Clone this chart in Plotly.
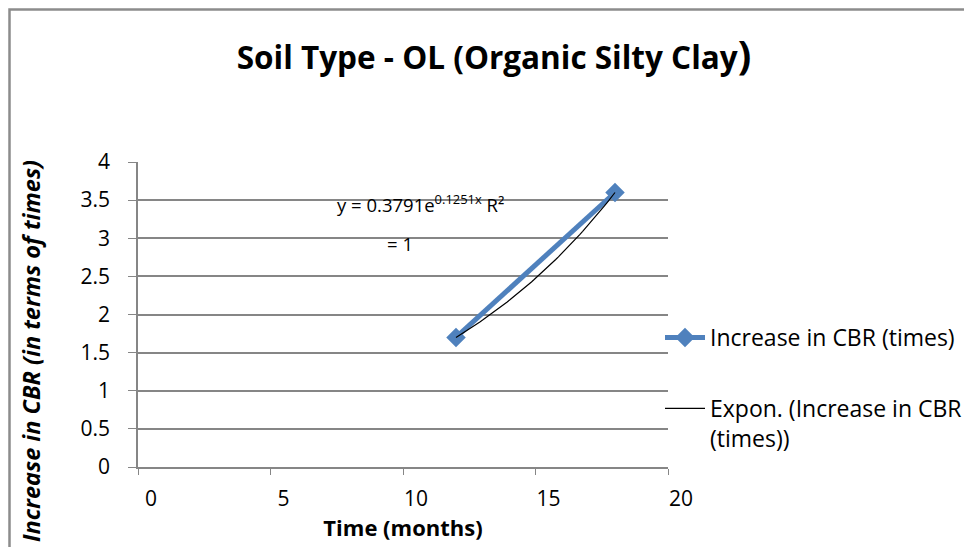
import numpy as np
import plotly.graph_objects as go

# Data
time_months = [12, 18]
cbr_increase = [1.7, 3.6]
series_name = "Increase in CBR (times)"
trend_name = "Expon. (Increase in CBR<br>(times))"
eq_line1 = "y = 0.3791e<sup>0.1251x</sup> R²"
eq_line2 = "= 1"
title_text = "Soil Type - OL (Organic Silty Clay<span style='font-size:40px'>)</span>"
x_title = "<b>Time (months)</b>"
y_title = "<b><i>Increase in CBR (in terms of times)</i></b>"

# exponential trendline fitted to the data
b, ln_a = np.polyfit(np.array(time_months, float), np.log(cbr_increase), 1)
xt = np.linspace(min(time_months), max(time_months), 60)
yt = np.exp(ln_a) * np.exp(b * xt)

OFF = 8  # page body margin
SW, SH = 972, 547  # screen size
W, H = SW - OFF, SH - OFF
# plot area in screen pixels
PX0, PX1, PY0, PY1 = 138, 668, 162, 467
L, T = PX0 - OFF, PY0 - OFF
pw, ph = PX1 - PX0, PY1 - PY0
R, B = W - L - pw, H - T - ph

def px(x):  # screen x -> paper
    return (x - PX0) / pw

def py(y):  # screen y -> paper
    return (PY1 - y) / ph

FONT = "Open Sans"
fig = go.Figure()
fig.add_trace(go.Scatter(
    x=time_months, y=cbr_increase, mode="lines+markers", name=series_name,
    line=dict(color="#4F81BD", width=5),
    marker=dict(symbol="diamond", size=15, color="#4F81BD"),
    legendgroup="a",
))
fig.add_trace(go.Scatter(
    x=xt, y=yt, mode="lines", name=trend_name,
    line=dict(color="black", width=1.2),
    legendgroup="b",
))

fig.update_layout(
    width=W, height=H,
    margin=dict(l=L, r=R, t=T, b=B, autoexpand=False),
    paper_bgcolor="white", plot_bgcolor="white",
    font=dict(family=FONT, color="black", size=21),
    showlegend=True,
    legend=dict(x=px(660), y=py(316), xanchor="left", yanchor="top",
                traceorder="grouped", tracegroupgap=38, valign="top",
                font=dict(size=23, family=FONT), bgcolor="rgba(0,0,0,0)",
                itemwidth=40),
    xaxis=dict(range=[0, 20], tickvals=[0, 5, 10, 15, 20], showgrid=False,
               showline=True, linecolor="#868686", linewidth=1.5,
               ticks="outside", ticklen=6, tickcolor="#868686",
               tickfont=dict(size=21), zeroline=False,
               ticklabelshift=13, ticklabelstandoff=6,
               title=dict(text=x_title, font=dict(size=22), standoff=4)),
    yaxis=dict(range=[0, 4], tickvals=[0, 0.5, 1, 1.5, 2, 2.5, 3, 3.5, 4],
               ticktext=["0", "0.5", "1", "1.5", "2", "2.5", "3", "3.5", "4"],
               showgrid=True, gridcolor="#868686", gridwidth=1.5,
               showline=True, linecolor="#868686", linewidth=1.5,
               ticks="outside", ticklen=8, tickcolor="#868686",
               ticklabelstandoff=14,
               tickfont=dict(size=21), zeroline=False),
    title=dict(text="<b>" + title_text + "</b>", x=(494 - OFF) / W,
               y=1 - (58 - OFF) / H, xanchor="center", yanchor="middle",
               font=dict(size=31.5, family=FONT)),
)

fig.add_annotation(x=px(420), y=py(203), xref="paper", yref="paper",
                   text=eq_line1, showarrow=False, font=dict(size=18.5, family=FONT),
                   xanchor="center", yanchor="middle")
fig.add_annotation(x=px(400), y=py(243), xref="paper", yref="paper",
                   text=eq_line2, showarrow=False, font=dict(size=18.5, family=FONT),
                   xanchor="center", yanchor="middle")
fig.add_annotation(x=px(31), y=py(158), xref="paper", yref="paper",
                   text=y_title, textangle=-90, showarrow=False,
                   font=dict(size=23.5, family=FONT),
                   xanchor="center", yanchor="top")

# outer chart border (drawn at the page edge of the figure)
fig.add_shape(type="rect", xref="paper", yref="paper",
              x0=px(OFF + 1.5), x1=px(SW + 20), y0=py(SH + 20), y1=py(OFF + 1.5),
              line=dict(color="#8c8c8c", width=2.5), layer="below")

fig.write_html("out.html")
